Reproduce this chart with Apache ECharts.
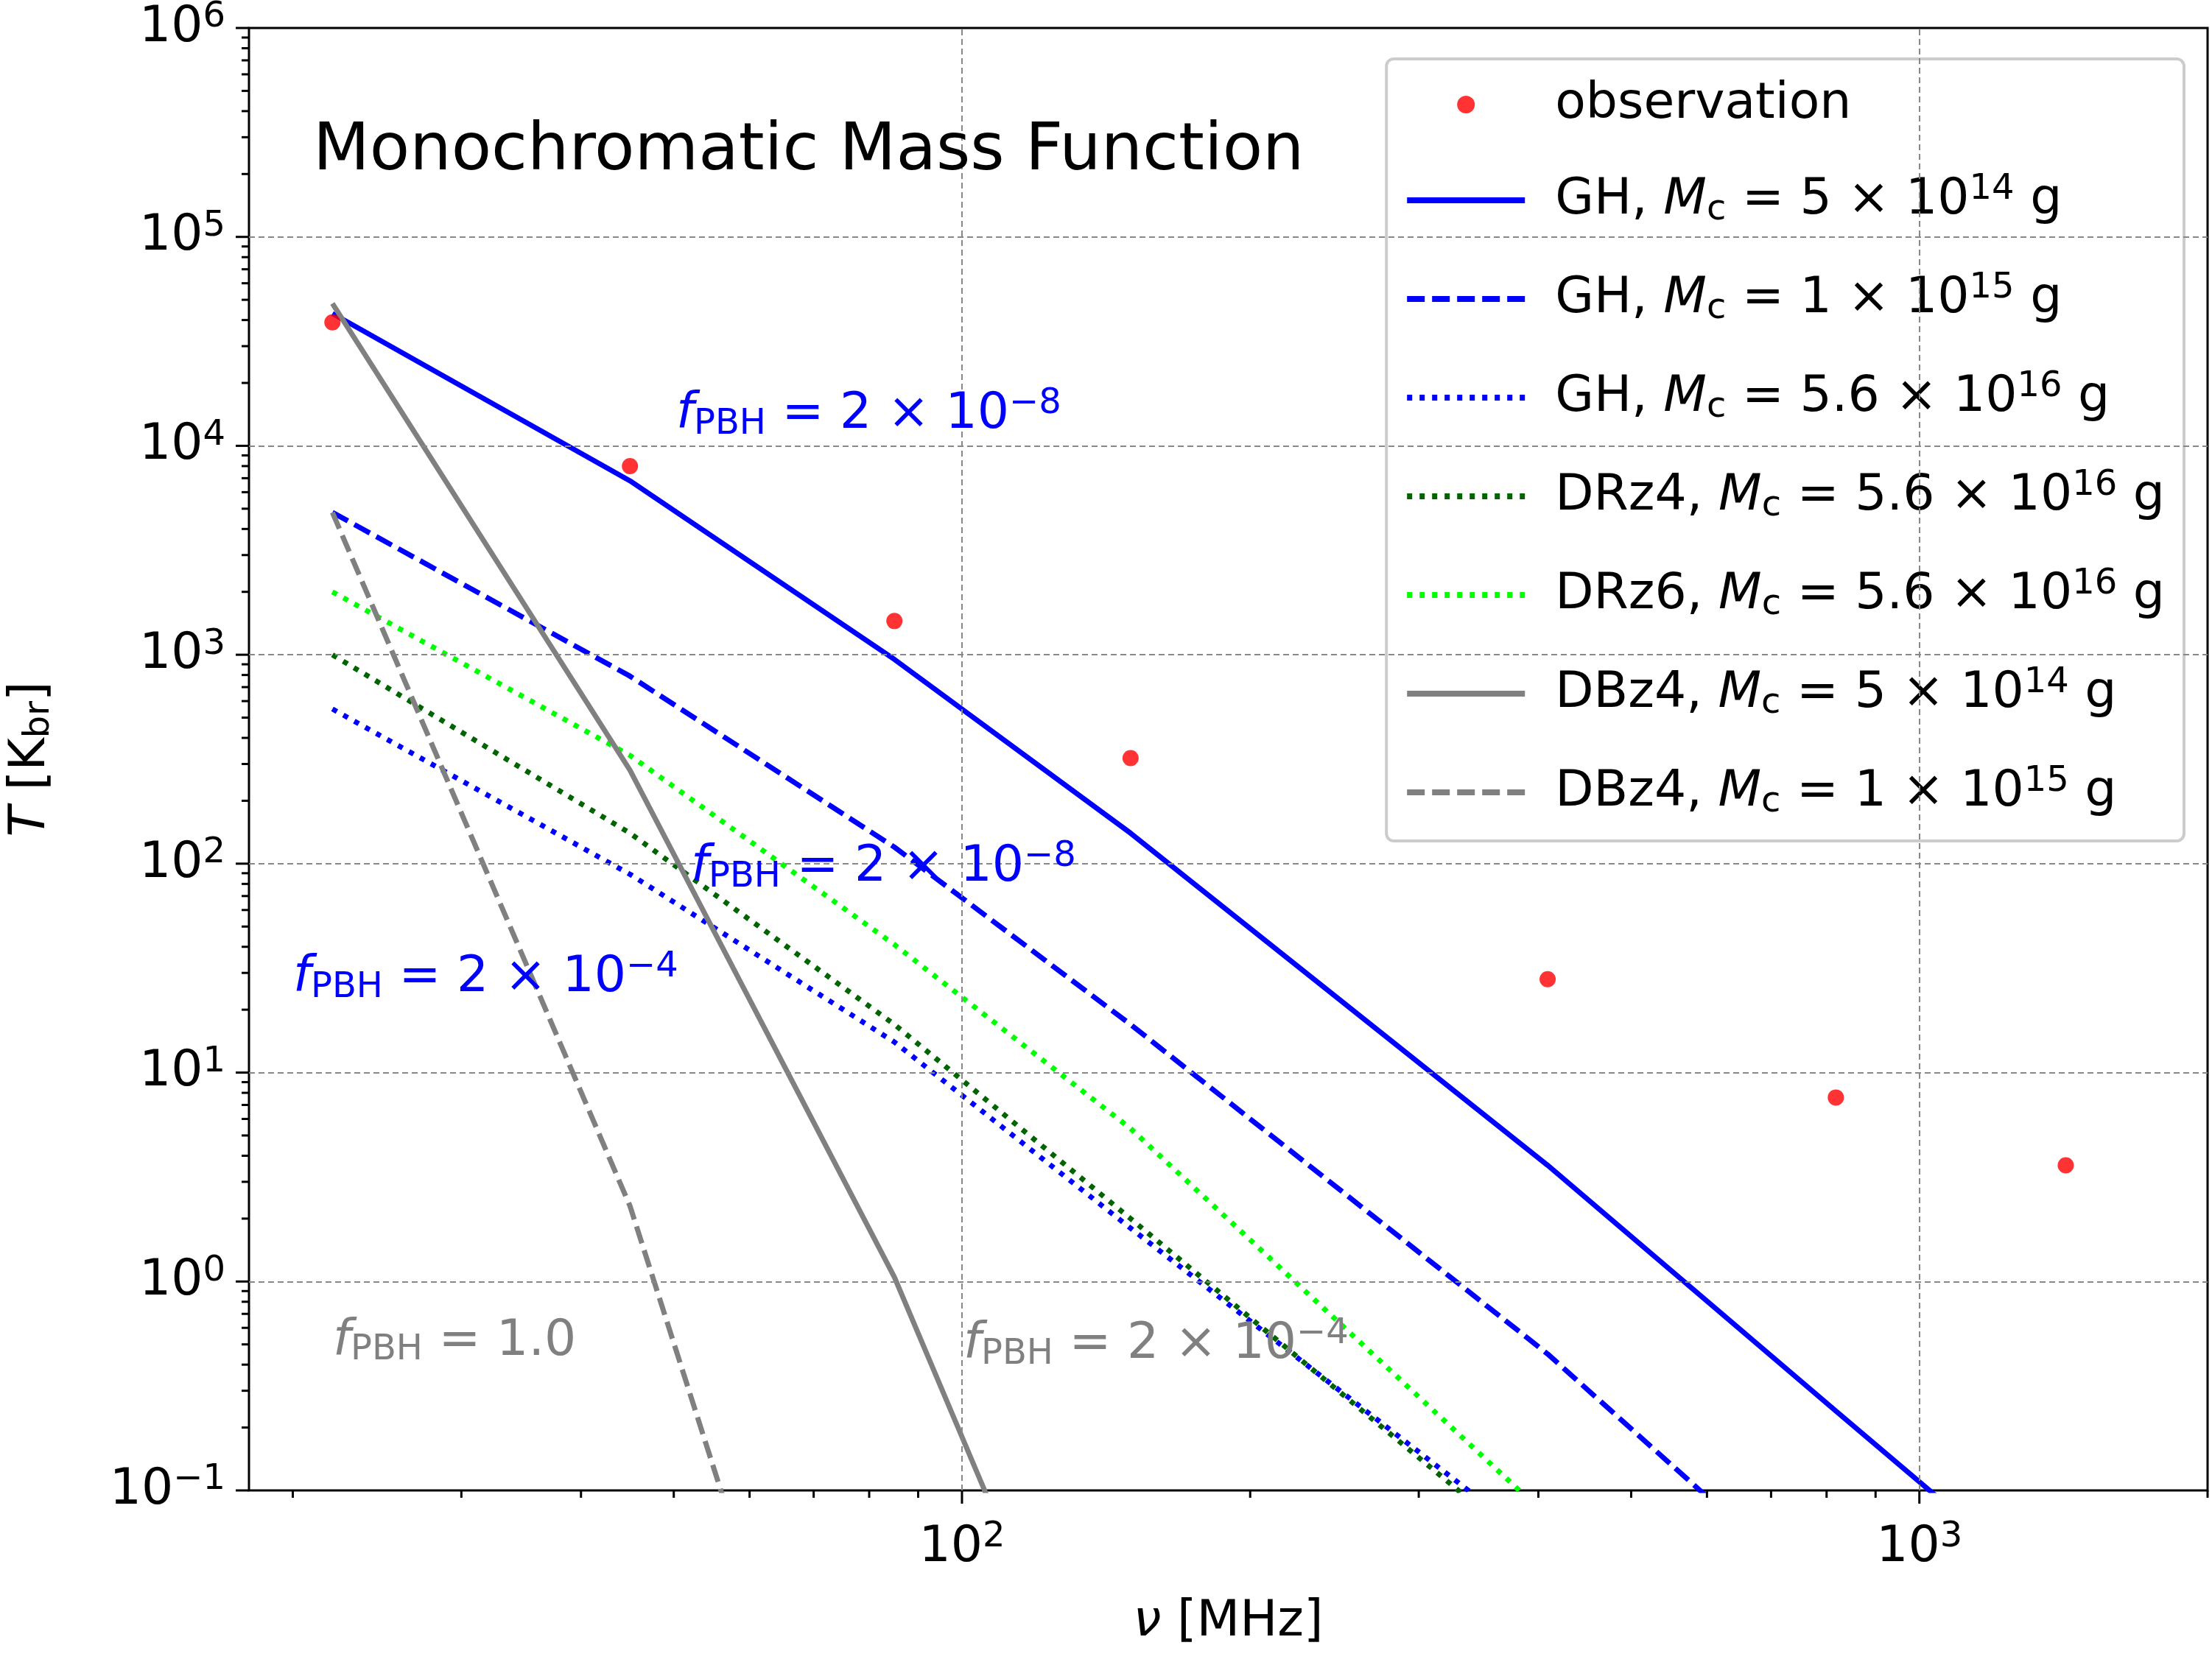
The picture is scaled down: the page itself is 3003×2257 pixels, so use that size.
<!DOCTYPE html>
<html><head><meta charset="utf-8">
<script src="https://cdn.jsdelivr.net/npm/echarts@6/dist/echarts.min.js"></script>
<style>html,body{margin:0;padding:0;background:#fff}#c{width:3003px;height:2257px}</style>
</head><body><div id="c"></div>
<script>
const obsNu=[22,45,85,150,409,818,1422];
const obsT=[3.9e4,8000,1450,320,28,7.6,3.6];
const ghSolidNu=[22,45,85,150,409,818,1422];
const ghSolidT=[4.3e4,6800,950,140,3.6,0.24,0.028];
const ghDashNu=[22,45,85,150,409,590,818];
const ghDashT=[4800,790,120,17,0.45,0.1,0.026];
const ghDotNu=[22,45,85,150,338,409];
const ghDotT=[550,89,14,1.8,0.1,0.03];
const drz4Nu=[22,45,85,150,330,409];
const drz4T=[1000,140,17,2,0.1,0.02];
const drz6Nu=[22,45,85,150,382,409];
const drz6T=[2000,330,41,5.4,0.1,0.07];
const dbSolidNu=[22,45,85,105.6,150];
const dbSolidT=[4.8e4,280,1.05,0.1,0.002];
const dbDashNu=[22,45,56,85];
const dbDashT=[4800,2.3,0.1,0.0003];
const xMajor=[2,3];
const yMajor=[-1,0,1,2,3,4,5,6];
const xMinorNu=[20,30,40,50,60,70,80,90,200,300,400,500,600,700,800,900,2000];

const L=Math.log10;
const pts=(a,b)=>a.map((v,i)=>[L(v),L(b[i])]);
const FF='DejaVu Sans', FS=68, SS=48;
function richC(c){return {
 i:{fontStyle:'italic',fontSize:FS,fontFamily:FF,color:c,fill:c},
 sub:{fontSize:SS,verticalAlign:'bottom',padding:[24,0,0,0],fontFamily:FF,color:c,fill:c},
 sup:{fontSize:SS,verticalAlign:'top',padding:[0,0,28,0],fontFamily:FF,color:c,fill:c},
 n:{fontSize:FS,fontFamily:FF,color:c,fill:c}};}
const sup=s=>s.replace('-','−');
const yMinor=[];for(let d=-1;d<6;d++)for(let k=2;k<=9;k++)yMinor.push(d+L(k));

const lw=7;
function line(name,nu,t,color,type){
 return {name,type:'line',data:pts(nu,t),symbol:'none',showSymbol:false,clip:true,
  lineStyle:{color,width:lw,type},itemStyle:{color},z:3};
}
const series=[
 {name:'observation',type:'scatter',data:pts(obsNu,obsT),symbolSize:22,itemStyle:{color:'#ff0000'},z:5},
 line('gh1',ghSolidNu,ghSolidT,'#0000ff','solid'),
 line('gh2',ghDashNu,ghDashT,'#0000ff',[24,10]),
 line('gh3',ghDotNu,ghDotT,'#0000ff',[7,10]),
 line('dr4',drz4Nu,drz4T,'#006400',[7,10]),
 line('dr6',drz6Nu,drz6T,'#00ff00',[7,10]),
 line('db1',dbSolidNu,dbSolidT,'#808080','solid'),
 line('db2',dbDashNu,dbDashT,'#808080',[24,10]),
 {type:'line',data:[],markLine:{silent:true,symbol:'none',label:{show:false},
   lineStyle:{color:'#888',type:[8,5],width:2},
   data:[...xMajor.map(x=>({xAxis:x})),...yMajor.slice(1,7).map(y=>({yAxis:y}))]},z:1},
 {type:'custom',silent:true,clip:false,z:6,
  data:[...xMinorNu.map(v=>[L(v),-1,0]),...xMajor.map(v=>[v,-1,1]),...yMinor.map(v=>[1.2553,v,2]),...yMajor.map(v=>[1.2553,v,3])],
  renderItem:(p,api)=>{const c=api.coord([api.value(0),api.value(1)]);const k=api.value(2);
   const len=(k==1||k==3)?18:10;
   if(k<2) return {type:'line',shape:{x1:c[0],y1:c[1],x2:c[0],y2:c[1]+len},style:{stroke:'#000',lineWidth:3}};
   return {type:'line',shape:{x1:c[0],y1:c[1],x2:c[0]-len,y2:c[1]},style:{stroke:'#000',lineWidth:3}};
  }}
];
const legNames={
 observation:'{n|observation}',
 gh1:'{n|GH, }{i|M}{sub|c}{n| = 5 × 10}{sup|14}{n| g}',
 gh2:'{n|GH, }{i|M}{sub|c}{n| = 1 × 10}{sup|15}{n| g}',
 gh3:'{n|GH, }{i|M}{sub|c}{n| = 5.6 × 10}{sup|16}{n| g}',
 dr4:'{n|DRz4, }{i|M}{sub|c}{n| = 5.6 × 10}{sup|16}{n| g}',
 dr6:'{n|DRz6, }{i|M}{sub|c}{n| = 5.6 × 10}{sup|16}{n| g}',
 db1:'{n|DBz4, }{i|M}{sub|c}{n| = 5 × 10}{sup|14}{n| g}',
 db2:'{n|DBz4, }{i|M}{sub|c}{n| = 1 × 10}{sup|15}{n| g}'
};
const legData=Object.keys(legNames).map(n=>n==='observation'?{name:n}:{name:n,itemStyle:{opacity:0}});
function ann(x,y,c,txt){return {type:'text',left:x,top:y,z:10,style:{text:'{i|f}{sub|PBH}{n| = '+txt,rich:richC(c),fill:c}};}
const chart=echarts.init(document.getElementById('c'),null,{renderer:'canvas'});
const tickRich={b:{fontSize:FS,fontFamily:FF,color:'#000'},s:{fontSize:SS,fontFamily:FF,verticalAlign:'top',padding:[0,0,28,0],color:'#000'}};
chart.setOption({
 animation:false,
 grid:{left:335,right:6,top:38,bottom:233,show:true,borderColor:'#000',borderWidth:3,backgroundColor:'transparent'},
 xAxis:{type:'value',min:L(18),max:L(2000),
  axisLine:{show:false},splitLine:{show:false},
  axisTick:{customValues:xMajor,show:false},
  axisLabel:{customValues:xMajor,margin:40,formatter:v=>'{b|10}{s|'+sup(String(Math.round(v)))+'}',rich:tickRich},
  name:'{i|ν}{n| [MHz]}',nameLocation:'middle',nameGap:145,nameTextStyle:{rich:richC('#000')}},
 yAxis:{type:'value',min:-1,max:6,interval:1,
  axisLine:{show:false},splitLine:{show:false},axisTick:{show:false},
  axisLabel:{margin:32,formatter:v=>'{b|10}{s|'+sup(String(Math.round(v)))+'}',rich:tickRich},
  name:'{i|T}{n| [K}{sub|br}{n|]}',nameLocation:'middle',nameGap:260,nameRotate:90,nameTextStyle:{rich:richC('#000')}},
 legend:{orient:'vertical',right:38,top:80,itemWidth:160,itemHeight:24,itemGap:58,
  padding:[28,26,28,24],borderColor:'#ccc',borderWidth:4,borderRadius:10,backgroundColor:'rgba(255,255,255,0.85)',
  lineStyle:{width:8},
  data:legData,formatter:n=>legNames[n],textStyle:{rich:richC('#000'),padding:[0,0,0,36]}},
 graphic:[
  {type:'text',left:425,top:162,z:10,style:{text:'Monochromatic Mass Function',fontSize:89,fontFamily:FF,fill:'#000'}},
  ann(918,525,'#0000ff','2 × 10}{sup|−8}'),
  ann(938,1140,'#0000ff','2 × 10}{sup|−8}'),
  ann(398,1290,'#0000ff','2 × 10}{sup|−4}'),
  ann(452,1788,'#808080','1.0}'),
  ann(1308,1788,'#808080','2 × 10}{sup|−4}')
 ],
 series
});
</script></body></html>
